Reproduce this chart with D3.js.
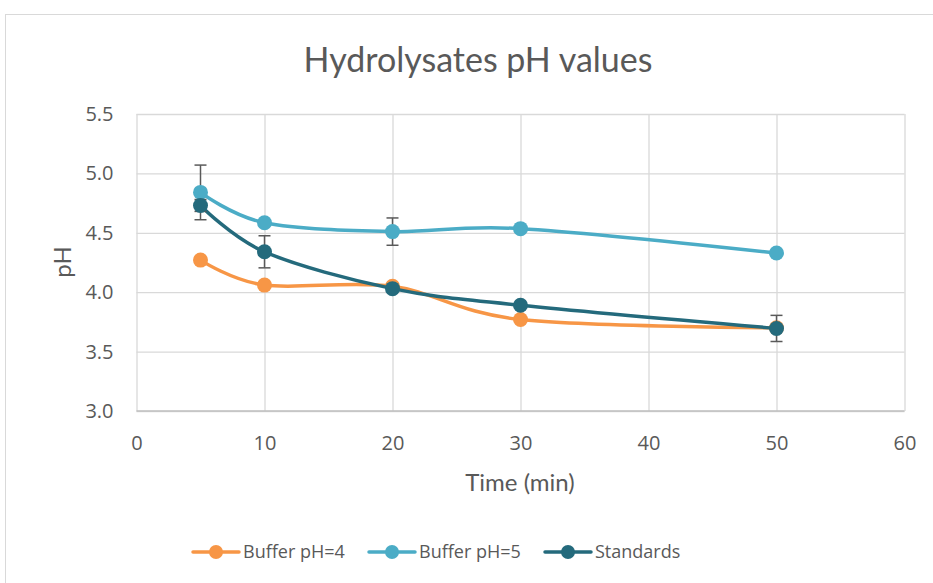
<!DOCTYPE html>
<html>
<head>
<meta charset="utf-8">
<script src="https://cdn.jsdelivr.net/npm/d3@7"></script>
<style>
  body { margin: 0; background: #fff; }
  text { fill: #595959; }
</style>
</head>
<body>
<script>
// data
var times = [5, 10, 20, 30, 50];
var buffer4 = [4.27, 4.06, 4.05, 3.77, 3.70];
var buffer5 = [4.84, 4.585, 4.51, 4.535, 4.33];
var standards = [4.73, 4.34, 4.03, 3.89, 3.695];
var err4 = [0, 0, 0.02, 0, 0.02];
var err5 = [0.23, 0, 0.115, 0.02, 0];
var errStd = [0.05, 0.135, 0.02, 0, 0.11];
var xTicks = [0, 10, 20, 30, 40, 50, 60];
var yTicks = [3.0, 3.5, 4.0, 4.5, 5.0, 5.5];
var seriesNames = ["Buffer pH=4", "Buffer pH=5", "Standards"];
var colors = ["#F79646", "#4BACC6", "#246A7C"];

var W = 933, H = 583;
var svg = d3.select("body").append("svg")
    .attr("width", W)
    .attr("height", H);

// chart area border
svg.append("rect")
    .attr("x", 5.5).attr("y", 14.5)
    .attr("width", W + 20).attr("height", H + 20)
    .attr("fill", "#fff")
    .attr("stroke", "#D9D9D9");

var margin = {top: 114, right: 933 - 904.5, bottom: 583 - 411, left: 136.5},
    width = W - margin.left - margin.right,
    height = H - margin.top - margin.bottom;

var x = d3.scaleLinear().domain([0, 60]).range([0, width]);
var y = d3.scaleLinear().domain([3, 5.5]).range([height, 0]);

var g = svg.append("g")
    .attr("transform", "translate(" + margin.left + "," + margin.top + ")");

// grid
g.append("g")
    .attr("class", "grid")
    .call(d3.axisLeft(y).tickValues(yTicks).tickSize(-width).tickFormat(""))
    .call(function(s) {
      s.select(".domain").remove();
      s.selectAll("line").attr("stroke", "#D9D9D9").attr("stroke-width", 1.3);
    });
g.append("g")
    .attr("class", "grid")
    .attr("transform", "translate(0," + height + ")")
    .call(d3.axisBottom(x).tickValues(xTicks).tickSize(-height).tickFormat(""))
    .call(function(s) {
      s.select(".domain").remove();
      s.selectAll("line").attr("stroke", "#D9D9D9").attr("stroke-width", 1.3);
    });
g.append("line")
    .attr("x1", 0).attr("x2", width)
    .attr("y1", height).attr("y2", height)
    .attr("stroke", "#BFBFBF").attr("stroke-width", 1.5);

// tick labels
var yAxis = g.append("g")
    .call(d3.axisLeft(y).tickValues(yTicks).tickSize(0).tickPadding(23)
      .tickFormat(d3.format(".1f")));
yAxis.select(".domain").remove();
yAxis.selectAll("text")
    .style("font-family", "'Open Sans', sans-serif")
    .style("font-size", "20px")
    .attr("fill", "#595959");

var xAxis = g.append("g")
    .attr("transform", "translate(0," + height + ")")
    .call(d3.axisBottom(x).tickValues(xTicks).tickSize(0).tickPadding(25));
xAxis.select(".domain").remove();
xAxis.selectAll("text")
    .style("font-family", "'Open Sans', sans-serif")
    .style("font-size", "20px")
    .attr("fill", "#595959");

// titles
svg.append("text")
    .attr("x", 478).attr("y", 72)
    .attr("text-anchor", "middle")
    .style("font-family", "Lato, sans-serif")
    .style("font-size", "34px")
    .text("Hydrolysates pH values");

svg.append("text")
    .attr("x", 520).attr("y", 491)
    .attr("text-anchor", "middle")
    .style("font-family", "Lato, sans-serif")
    .style("font-size", "24px")
    .text("Time (min)");

svg.append("text")
    .attr("transform", "translate(71,262) rotate(-90)")
    .attr("text-anchor", "middle")
    .style("font-family", "Lato, sans-serif")
    .style("font-size", "24px")
    .text("pH");

// series
var allSeries = [buffer4, buffer5, standards];
var allErr = [err4, err5, errStd];
var line = d3.line()
    .x(function(d) { return x(d.t); })
    .y(function(d) { return y(d.v); })
    .curve(d3.curveCatmullRom.alpha(0));

allSeries.forEach(function(vals, i) {
  var pts = times.map(function(t, j) { return {t: t, v: vals[j], e: allErr[i][j]}; });
  var sg = g.append("g").attr("class", "series");

  sg.append("path")
      .datum(pts)
      .attr("fill", "none")
      .attr("stroke", colors[i])
      .attr("stroke-width", 3.5)
      .attr("stroke-linecap", "round")
      .attr("d", line);

  var eb = sg.selectAll(".err")
      .data(pts.filter(function(d) { return d.e > 0; }))
    .enter().append("g")
      .attr("class", "err")
      .attr("stroke", "#595959")
      .attr("stroke-width", 1.5);
  eb.append("line")
      .attr("x1", function(d) { return x(d.t); })
      .attr("x2", function(d) { return x(d.t); })
      .attr("y1", function(d) { return y(d.v + d.e); })
      .attr("y2", function(d) { return y(d.v - d.e); });
  [1, -1].forEach(function(sgn) {
    eb.append("line")
        .attr("x1", function(d) { return x(d.t) - 6; })
        .attr("x2", function(d) { return x(d.t) + 6; })
        .attr("y1", function(d) { return y(d.v + sgn * d.e); })
        .attr("y2", function(d) { return y(d.v + sgn * d.e); });
  });

  sg.selectAll(".dot")
      .data(pts)
    .enter().append("circle")
      .attr("class", "dot")
      .attr("cx", function(d) { return x(d.t); })
      .attr("cy", function(d) { return y(d.v); })
      .attr("r", 7.5)
      .attr("fill", colors[i]);
});

// legend
var legendX = [193, 369, 545];
var legend = svg.append("g").attr("class", "legend");
seriesNames.forEach(function(name, i) {
  var lg = legend.append("g")
      .attr("transform", "translate(" + legendX[i] + ",552)");
  lg.append("line")
      .attr("x1", 0).attr("x2", 46)
      .attr("stroke", colors[i])
      .attr("stroke-width", 3.5)
      .attr("stroke-linecap", "round");
  lg.append("circle")
      .attr("cx", 23).attr("r", 7)
      .attr("fill", colors[i]);
  lg.append("text")
      .attr("x", 50).attr("dy", "0.35em")
      .style("font-family", "'Open Sans', sans-serif")
      .style("font-size", "18px")
      .text(name);
});
</script>
</body>
</html>
